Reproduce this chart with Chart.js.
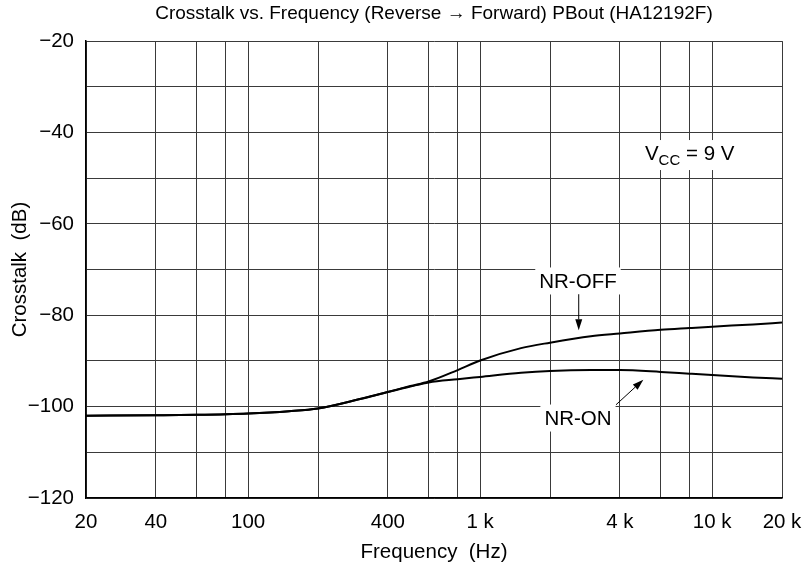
<!DOCTYPE html>
<html>
<head>
<meta charset="utf-8">
<script src="https://cdn.jsdelivr.net/npm/chart.js@4/dist/chart.umd.min.js"></script>
<style>
  html, body { margin: 0; padding: 0; background: #fff; }
  #wrap { width: 808px; height: 570px; }
</style>
</head>
<body>
<div id="wrap"><canvas id="canvas" width="808" height="570"></canvas></div>
<script>
"use strict";

// frequencies (Hz)
const freqs = [20, 40, 60, 100, 150, 200, 300, 400, 500, 600, 800, 1000, 1500, 2000, 3000, 4000, 6000, 8000, 10000, 15000, 20000];
const nrOff = [-102, -101.9, -101.8, -101.5, -101, -100.4, -98.4, -96.8, -95.5, -94.5, -92.0, -89.9, -87.2, -86.0, -84.6, -84.0, -83.2, -82.8, -82.5, -82.0, -81.6];
const nrOn  = [-102, -101.9, -101.8, -101.5, -101, -100.4, -98.4, -96.8, -95.6, -94.7, -94.0, -93.5, -92.6, -92.2, -92.0, -92.0, -92.4, -92.8, -93.1, -93.6, -93.9];

const xGrid = [20, 40, 60, 80, 100, 200, 400, 600, 800, 1000, 2000, 4000, 6000, 8000, 10000, 20000];
const xLabels = { 20: "20", 40: "40", 100: "100", 400: "400", 1000: "1 k", 4000: "4 k", 10000: "10 k", 20000: "20 k" };
const yLabels = [-20, -40, -60, -80, -100, -120];

const FONT = "'Liberation Sans', Arial, sans-serif";
const FS = 20.5;

function toPoints(vals) {
  return freqs.map((f, i) => ({ x: f, y: vals[i] }));
}

// text labels and arrows inside the plot
const notes = {
  id: "notes",
  afterDatasetsDraw(chart) {
    const ctx = chart.ctx;
    const xs = chart.scales.x, ys = chart.scales.y;
    const px = (f) => xs.getPixelForValue(f);
    const py = (v) => ys.getPixelForValue(v);

    ctx.save();
    ctx.fillStyle = "#000";
    ctx.textBaseline = "middle";

    function label(text, f, v) {
      ctx.font = FS + "px " + FONT;
      ctx.textAlign = "center";
      const w = ctx.measureText(text).width;
      const x = px(f), y = py(v);
      ctx.fillStyle = "#fff";
      ctx.fillRect(x - w / 2 - 4, y - 13.5, w + 8, 27);
      ctx.fillStyle = "#000";
      ctx.fillText(text, x, y + 1);
    }

    function arrow(f1, v1, f2, v2) {
      const x1 = px(f1), y1 = py(v1), x2 = px(f2), y2 = py(v2);
      const a = Math.atan2(y2 - y1, x2 - x1);
      const hl = 11, hw = 3.5;
      ctx.strokeStyle = "#000";
      ctx.lineWidth = 1;
      ctx.beginPath();
      ctx.moveTo(x1, y1);
      ctx.lineTo(x2 - hl * Math.cos(a), y2 - hl * Math.sin(a));
      ctx.stroke();
      ctx.beginPath();
      ctx.moveTo(x2, y2);
      ctx.lineTo(x2 - hl * Math.cos(a) + hw * Math.sin(a), y2 - hl * Math.sin(a) - hw * Math.cos(a));
      ctx.lineTo(x2 - hl * Math.cos(a) - hw * Math.sin(a), y2 - hl * Math.sin(a) + hw * Math.cos(a));
      ctx.closePath();
      ctx.fill();
    }

    label("NR-OFF", 2640, -72.5);
    arrow(2660, -75.4, 2660, -83.3);
    label("NR-ON", 2640, -102.5);
    arrow(3850, -99.6, 5050, -94.1);

    // V_CC = 9 V with subscript
    const vx = px(8000), vy = py(-44.5);
    ctx.font = FS + "px " + FONT;
    const wV = ctx.measureText("V").width;
    const wRest = ctx.measureText(" = 9 V").width;
    ctx.font = "15px " + FONT;
    const wCC = ctx.measureText("CC").width;
    const total = wV + wCC + wRest;
    const x0 = vx - total / 2;
    ctx.fillStyle = "#fff";
    ctx.fillRect(x0 - 6, vy - 13, total + 12, 30);
    ctx.fillStyle = "#000";
    ctx.textAlign = "left";
    ctx.font = FS + "px " + FONT;
    ctx.fillText("V", x0, vy + 1);
    ctx.font = "15px " + FONT;
    ctx.fillText("CC", x0 + wV, vy + 8);
    ctx.font = FS + "px " + FONT;
    ctx.fillText(" = 9 V", x0 + wV + wCC, vy + 1);
    ctx.restore();
  }
};

new Chart(document.getElementById("canvas"), {
  type: "line",
  data: {
    datasets: [
      { label: "NR-OFF", data: toPoints(nrOff) },
      { label: "NR-ON", data: toPoints(nrOn) }
    ]
  },
  options: {
    responsive: false,
    animation: false,
    events: [],
    layout: { padding: { left: 0, right: 26, top: 0, bottom: 0 } },
    elements: {
      line: { borderColor: "#000", borderWidth: 2, cubicInterpolationMode: "monotone", fill: false },
      point: { radius: 0 }
    },
    plugins: {
      legend: { display: false },
      tooltip: { enabled: false },
      title: {
        display: true,
        fullSize: false,
        text: "Crosstalk vs. Frequency (Reverse \u2192 Forward) PBout (HA12192F)",
        color: "#000",
        font: { family: FONT, size: 19, weight: "normal" },
        padding: { top: 2.3, bottom: 16 }
      }
    },
    scales: {
      x: {
        type: "logarithmic",
        min: 20,
        max: 20000,
        afterBuildTicks: (s) => { s.ticks = xGrid.map((v) => ({ value: v })); },
        afterFit: (s) => { s.height = 72; s.paddingRight = 0; },
        ticks: {
          autoSkip: false,
          maxRotation: 0,
          padding: 12,
          color: "#000",
          font: { family: FONT, size: FS },
          callback: (v) => xLabels[v] || ""
        },
        grid: { color: "#3a3a3a", lineWidth: 1, drawTicks: false },
        border: { color: "#000", width: 1.5 },
        title: {
          display: true,
          text: "Frequency  (Hz)",
          color: "#000",
          font: { family: FONT, size: FS },
          padding: { top: 0, bottom: 5 }
        }
      },
      y: {
        min: -120,
        max: -20,
        afterFit: (s) => { s.width = 86; },
        ticks: {
          stepSize: 10,
          padding: 12,
          color: "#000",
          font: { family: FONT, size: FS },
          callback: (v) => yLabels.includes(v) ? "\u2212" + Math.abs(v) : ""
        },
        grid: { color: "#3a3a3a", lineWidth: 1, drawTicks: false },
        border: { color: "#000", width: 1.5 },
        title: {
          display: true,
          text: "Crosstalk  (dB)",
          color: "#000",
          font: { family: FONT, size: FS },
          padding: { top: 7.7, bottom: 0 }
        }
      }
    }
  },
  plugins: [notes]
});
</script>
</body>
</html>
